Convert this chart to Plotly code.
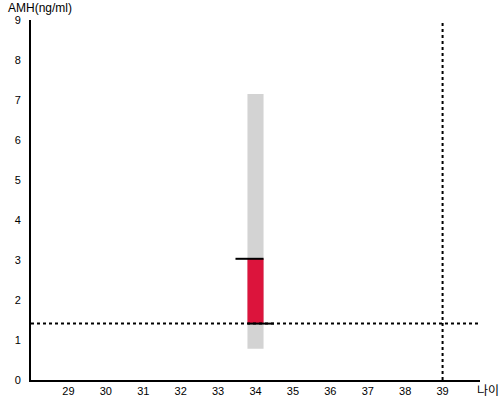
import plotly.graph_objects as go

# Data
age = 34
range_low = 0.78
range_high = 7.15
amh_low = 1.41
amh_high = 3.03
ref_age = 39
ref_amh = 1.41
x_ticks = list(range(29, 40))
y_ticks = list(range(0, 10))

bar_w = 0.43
half = bar_w / 2

fig = go.Figure()
fig.add_trace(go.Bar(x=[age], y=[range_high - range_low], base=[range_low], width=[bar_w],
                     marker=dict(color="#d3d3d3", line=dict(width=0)), hoverinfo="skip"))
fig.add_trace(go.Bar(x=[age], y=[amh_high - amh_low], base=[amh_low], width=[bar_w],
                     marker=dict(color="#dc143c", line=dict(width=0)), hoverinfo="skip"))
fig.add_trace(go.Scatter(x=[age - half - 0.32, age + half], y=[amh_high, amh_high], mode="lines",
                         line=dict(color="black", width=2), hoverinfo="skip"))
fig.add_trace(go.Scatter(x=[age - half, age + half + 0.28], y=[amh_low, amh_low], mode="lines",
                         line=dict(color="black", width=2), hoverinfo="skip"))

fig.add_shape(type="line", xref="paper", yref="y", x0=0, x1=1, y0=ref_amh, y1=ref_amh,
              line=dict(color="black", width=2, dash="dot"))
fig.add_shape(type="line", xref="x", yref="paper", x0=ref_age, x1=ref_age, y0=0, y1=1,
              line=dict(color="black", width=2, dash="dot"))

fig.update_layout(
    width=500, height=400, barmode="overlay", showlegend=False,
    paper_bgcolor="white", plot_bgcolor="white",
    margin=dict(l=31, r=20, t=20, b=20, autoexpand=False),
    font=dict(family="Liberation Sans, Arial, sans-serif", size=11, color="black"),
    xaxis=dict(range=[28, 40], tickvals=x_ticks, showgrid=False, zeroline=False, automargin=False,
               showline=True, linecolor="black", linewidth=2, ticks="", ticklen=0),
    yaxis=dict(range=[0, 9], tickvals=y_ticks, showgrid=False, zeroline=False, automargin=False,
               showline=True, linecolor="black", linewidth=2, ticks="", ticklen=0,
               ticklabelstandoff=6),
    annotations=[
        dict(text="AMH(ng/ml)", xref="paper", yref="paper", x=-0.056, y=1.0, yshift=3,
             xanchor="left", yanchor="bottom", showarrow=False,
             font=dict(size=12, family="Liberation Sans, Arial, sans-serif")),
        dict(text="나이", xref="paper", yref="paper", x=1.044, y=0, yshift=0,
             xanchor="right", yanchor="top", showarrow=False, borderpad=0,
             font=dict(size=12, family="Noto Sans CJK KR")),
    ],
)

fig.write_html("out.html", config={"displayModeBar": False},
               post_script="document.body.style.margin='0';document.body.style.overflow='hidden';")
